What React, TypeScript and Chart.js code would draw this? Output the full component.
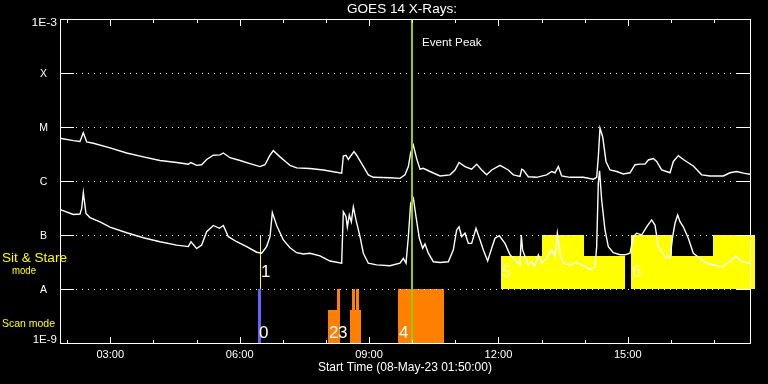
import React, { useEffect, useRef } from "react";
import { Chart, registerables } from "chart.js";

Chart.register(...registerables);

// ---------------- data ----------------
const chartTitle = "GOES 14 X-Rays:";
const xAxisTitle = "Start Time (08-May-23 01:50:00)";
const startHour = 1 + 50 / 60; // 01:50
const spanHours = 16;
const majorTickHours = [3, 6, 9, 12, 15];
const majorTickLabels = ["03:00", "06:00", "09:00", "12:00", "15:00"];
const minorTickHours = [2, 4, 5, 7, 8, 10, 11, 13, 14, 16, 17];
const fluxMin = 1e-9;
const fluxMax = 1e-3;
const fluxMinLabel = "1E-9";
const fluxMaxLabel = "1E-3";
const classLevels = [1e-8, 1e-7, 1e-6, 1e-5, 1e-4];
const classLabels = ["A", "B", "C", "M", "X"];
const eventPeakHour = 9.99;
const eventPeakLabel = "Event Peak";
const stareLabel1 = "Sit & Stare";
const stareLabel2 = "mode";
const scanLabel = "Scan mode";

// 1-8 Å (long wavelength) channel
const longHours = [
  1.833, 2.143, 2.297, 2.374, 2.452, 2.606, 2.993, 3.379, 3.766, 4.152, 4.539, 4.809, 4.871, 5.002,
  5.118, 5.234, 5.389, 5.543, 5.621, 5.775, 6.007, 6.239, 6.471, 6.587, 6.703, 6.78, 6.935, 7.089,
  7.167, 7.321, 7.63, 7.94, 8.365, 8.403, 8.465, 8.519, 8.573, 8.651, 8.713, 8.829, 8.983, 9.099,
  9.486, 9.717, 9.833, 9.911, 9.965, 10.027, 10.104, 10.181, 10.258, 10.413, 10.645, 10.877, 10.993,
  11.086, 11.225, 11.379, 11.495, 11.611, 11.727, 11.843, 12.036, 12.229, 12.345, 12.5, 12.54,
  12.577, 12.693, 12.886, 13.118, 13.234, 13.312, 13.389, 13.466, 13.659, 13.969, 14.2, 14.278,
  14.316, 14.355, 14.417, 14.494, 14.587, 14.742, 14.896, 15.051, 15.167, 15.283, 15.399, 15.476,
  15.592, 15.669, 15.785, 15.978, 16.056, 16.172, 16.287, 16.519, 16.713, 16.906, 17.215, 17.37,
  17.524, 17.679, 17.833,
];
const longFlux = [
  6.2e-6, 5.6e-6, 5.4e-6, 7.8e-6, 5.3e-6, 5.0e-6, 4.1e-6, 3.3e-6, 2.8e-6, 2.4e-6, 2.2e-6, 2.05e-6, 2.2e-6, 1.95e-6,
  2.0e-6, 2.5e-6, 3.0e-6, 3.05e-6, 3.3e-6, 2.7e-6, 2.4e-6, 2.1e-6, 1.85e-6, 2.0e-6, 3.0e-6, 3.65e-6, 2.8e-6, 2.2e-6,
  1.95e-6, 1.75e-6, 1.7e-6, 1.6e-6, 1.4e-6, 2.9e-6, 3.0e-6, 2.5e-6, 2.9e-6, 3.5e-6, 3.0e-6, 2.1e-6, 1.3e-6, 1.17e-6,
  1.15e-6, 1.12e-6, 1.3e-6, 1.85e-6, 3.3e-6, 4.6e-6, 2.6e-6, 1.65e-6, 1.72e-6, 1.5e-6, 1.24e-6, 1.3e-6, 1.6e-6,
  2.2e-6, 1.85e-6, 1.65e-6, 2.05e-6, 1.6e-6, 1.3e-6, 1.6e-6, 1.95e-6, 1.6e-6, 1.3e-6, 1.22e-6, 1.65e-6,
  1.6e-6, 1.2e-6, 1.17e-6, 1.3e-6, 1.5e-6, 1.42e-6, 1.85e-6, 1.24e-6, 1.17e-6, 1.17e-6, 1.08e-6, 1.17e-6,
  2.8e-6, 9.5e-6, 6.6e-6, 2.3e-6, 1.6e-6, 1.5e-6, 1.35e-6, 1.42e-6, 2.0e-6, 2.05e-6, 2.05e-6, 2.45e-6,
  2.6e-6, 2.3e-6, 1.6e-6, 1.42e-6, 2.3e-6, 2.95e-6, 2.5e-6, 1.9e-6, 1.3e-6, 1.24e-6, 1.24e-6, 1.42e-6,
  1.5e-6, 1.4e-6, 1.33e-6,
];

// 0.5-4 Å (short wavelength) channel
const shortHours = [
  1.833, 1.872, 2.143, 2.297, 2.336, 2.374, 2.436, 2.529, 2.761, 2.993, 3.379, 3.766, 4.152, 4.539,
  4.809, 4.871, 5.002, 5.118, 5.234, 5.389, 5.528, 5.621, 5.737, 5.93, 6.162, 6.394, 6.51, 6.625,
  6.703, 6.757, 6.858, 7.012, 7.167, 7.321, 7.476, 7.63, 7.862, 8.094, 8.365, 8.403, 8.465, 8.496,
  8.542, 8.589, 8.635, 8.697, 8.79, 8.867, 8.983, 9.176, 9.486, 9.717, 9.795, 9.857, 9.911, 9.965,
  10.027, 10.088, 10.166, 10.243, 10.297, 10.374, 10.49, 10.645, 10.838, 10.954, 11.031, 11.086,
  11.147, 11.225, 11.302, 11.379, 11.48, 11.573, 11.65, 11.75, 11.843, 11.92, 12.021, 12.152,
  12.268, 12.384, 12.5, 12.53, 12.56, 12.616, 12.693, 12.771, 12.848, 12.925, 13.002, 13.118,
  13.234, 13.312, 13.366, 13.428, 13.505, 13.659, 13.814, 13.969, 14.123, 14.239, 14.278, 14.316,
  14.345, 14.394, 14.471, 14.548, 14.664, 14.819, 14.935, 15.051, 15.128, 15.205, 15.321, 15.437,
  15.553, 15.63, 15.708, 15.862, 15.978, 16.04, 16.094, 16.156, 16.21, 16.287, 16.403, 16.519,
  16.674, 16.829, 17.06, 17.215, 17.37, 17.509, 17.64, 17.833,
];
const shortFlux = [
  3.0e-7, 2.9e-7, 2.4e-7, 2.45e-7, 3.1e-7, 6.1e-7, 2.5e-7, 2.1e-7, 1.75e-7, 1.4e-7, 1.1e-7, 8.9e-8, 7.5e-8, 6.5e-8,
  6.1e-8, 7.5e-8, 5.6e-8, 6.5e-8, 1.15e-7, 1.5e-7, 1.33e-7, 1.5e-7, 9.3e-8, 7.5e-8, 6.1e-8, 4.8e-8, 4.6e-8, 6.1e-8,
  9.3e-8, 2.6e-7, 1.5e-7, 8.1e-8, 5.8e-8, 4.7e-8, 4.45e-8, 4.6e-8, 4.1e-8, 3.3e-8, 3.0e-8, 2.7e-7, 2.2e-7, 1.4e-7,
  2.35e-7, 1.75e-7, 3.3e-7, 1.9e-7, 9.3e-8, 4.6e-8, 3.0e-8, 2.8e-8, 2.7e-8, 3.0e-8, 3.7e-8, 3.0e-8, 9.3e-8, 3.9e-7,
  4.8e-7, 2.2e-7, 8.7e-8, 5.7e-8, 6.8e-8, 4.6e-8, 3.2e-8, 3.1e-8, 3.2e-8, 5.3e-8, 1.24e-7, 1.42e-7,
  9.3e-8, 1.08e-7, 7.0e-8, 7.0e-8, 1.33e-7, 8.1e-8, 5.3e-8, 3.3e-8, 5.7e-8, 8.7e-8, 9.7e-8, 7.0e-8,
  4.3e-8, 3.45e-8, 2.8e-8, 1.0e-7, 5.3e-8, 4.0e-8, 2.8e-8, 3.2e-8, 2.7e-8, 4.3e-8, 3.0e-8, 3.7e-8,
  5.3e-8, 4.0e-8, 1.08e-7, 4.6e-8, 3.0e-8, 2.8e-8, 3.1e-8, 2.7e-8, 2.3e-8, 2.6e-8, 6.1e-8, 9.1e-7,
  1.55e-6, 4.45e-7, 1.24e-7, 6.1e-8, 4.7e-8, 4.3e-8, 4.3e-8, 4.6e-8, 9.3e-8, 1.08e-7, 1.0e-7, 1.42e-7,
  1.9e-7, 1.53e-7, 6.1e-8, 4.0e-8, 3.7e-8, 9.3e-8, 1.65e-7, 2.35e-7, 1.76e-7, 1.42e-7, 8.7e-8, 4.6e-8,
  3.7e-8, 3.0e-8, 2.7e-8, 2.6e-8, 3.3e-8, 4.1e-8, 3.2e-8, 3.0e-8,
];

// observation modes (hours, flux extent)
const modeStart = [6.425, 6.475, 8.048, 8.256, 8.558, 8.604, 8.696, 9.671, 12.06, 13.017, 15.074, 15.074, 16.975];
const modeEnd = [6.494, 6.49, 8.326, 8.326, 8.814, 8.674, 8.766, 10.738, 14.928, 13.984, 17.95, 16.032, 17.95];
const modeTop = [1e-8, 1e-7, 4.1e-9, 1e-8, 4.1e-9, 1e-8, 1e-8, 1e-8, 4.1e-8, 1e-7, 4.1e-8, 1e-7, 1e-7];
const modeBase = [1e-9, 1e-8, 1e-9, 1e-9, 1e-9, 1e-9, 1e-9, 1e-9, 1e-8, 1e-8, 1e-8, 1e-8, 1e-8];
const modeKind = ["scan0", "stare", "scan", "scan", "scan", "scan", "scan", "scan", "stare", "stare", "stare", "stare", "stare"];
const modeLabel = ["0", "1", "2", "3", "", "", "", "4", "5", "", "6", "", ""];

// ---------------- styles ----------------
const modeColors: Record<string, string> = { scan0: "#6464ff", stare: "#ffff00", scan: "#ff8000" };
const FONT = '"Liberation Sans", Arial, sans-serif';

function drawText(
  ctx: CanvasRenderingContext2D,
  s: string,
  x: number,
  y: number,
  size: number,
  color: string,
  align: "left" | "center" | "right",
  width?: number
) {
  ctx.save();
  ctx.font = `${size}px ${FONT}`;
  ctx.fillStyle = color;
  ctx.textBaseline = "middle";
  ctx.textAlign = "left";
  const w = ctx.measureText(s).width;
  const sx = width ? width / w : 1;
  const dw = w * sx;
  const left = align === "left" ? x : align === "center" ? x - dw / 2 : x - dw;
  ctx.translate(left, y);
  ctx.scale(sx, 1);
  ctx.fillText(s, 0, 0);
  ctx.restore();
}

const goesPlugin = {
  id: "goesDecor",
  beforeDraw(chart: any) {
    const ctx = chart.ctx as CanvasRenderingContext2D;
    ctx.save();
    ctx.fillStyle = "#000";
    ctx.fillRect(0, 0, chart.width, chart.height);
    ctx.restore();
  },
  beforeDatasetsDraw(chart: any) {
    const ctx = chart.ctx as CanvasRenderingContext2D;
    const a = chart.chartArea;
    const xs = chart.scales.x;
    const ys = chart.scales.y;
    ctx.save();
    // mode blocks
    for (let i = 0; i < modeStart.length; i++) {
      const x0 = Math.round(xs.getPixelForValue(modeStart[i]));
      const x1 = Math.round(xs.getPixelForValue(modeEnd[i]));
      const y0 = Math.round(ys.getPixelForValue(modeTop[i]));
      const y1 = Math.round(ys.getPixelForValue(modeBase[i]));
      ctx.fillStyle = modeColors[modeKind[i]];
      ctx.fillRect(x0, y0, Math.max(1, x1 - x0), y1 - y0);
    }
    // class grid lines (dotted) + solid ticks at both sides
    ctx.strokeStyle = "#fff";
    ctx.lineWidth = 1;
    for (const v of classLevels) {
      const py = Math.round(ys.getPixelForValue(v)) + 0.5;
      ctx.setLineDash([1, 5]);
      ctx.beginPath();
      ctx.moveTo(a.left + 16, py);
      ctx.lineTo(a.right - 14, py);
      ctx.stroke();
      ctx.setLineDash([]);
      ctx.beginPath();
      ctx.moveTo(a.left, py);
      ctx.lineTo(a.left + 14, py);
      ctx.moveTo(a.right - 14, py);
      ctx.lineTo(a.right, py);
      ctx.stroke();
    }
    ctx.restore();
  },
  afterDatasetsDraw(chart: any) {
    const ctx = chart.ctx as CanvasRenderingContext2D;
    const a = chart.chartArea;
    const xs = chart.scales.x;
    const ys = chart.scales.y;
    ctx.save();
    // event peak line
    const ex = Math.round(xs.getPixelForValue(eventPeakHour));
    ctx.fillStyle = "#99cc00";
    ctx.fillRect(ex - 1, a.top, 2, a.bottom - a.top);

    // frame
    ctx.strokeStyle = "#fff";
    ctx.lineWidth = 1;
    ctx.strokeRect(a.left + 0.5, a.top + 0.5, a.right - a.left, a.bottom - a.top);

    // time ticks top and bottom
    ctx.beginPath();
    for (const h of minorTickHours) {
      const px = Math.round(xs.getPixelForValue(h)) + 0.5;
      ctx.moveTo(px, a.top);
      ctx.lineTo(px, a.top + 4);
      ctx.moveTo(px, a.bottom + 1);
      ctx.lineTo(px, a.bottom - 3);
    }
    for (const h of majorTickHours) {
      const px = Math.round(xs.getPixelForValue(h)) + 0.5;
      ctx.moveTo(px, a.top);
      ctx.lineTo(px, a.top + 7);
      ctx.moveTo(px, a.bottom + 1);
      ctx.lineTo(px, a.bottom - 6);
    }
    ctx.stroke();
    ctx.restore();

    // texts
    drawText(ctx, chartTitle, (a.left + a.right) / 2 - 3, 9.5, 12.5, "#fff", "center", 110);
    drawText(ctx, xAxisTitle, (a.left + a.right) / 2, a.bottom + 25, 12, "#fff", "center", 174);
    majorTickHours.forEach((h, i) => {
      drawText(ctx, majorTickLabels[i], xs.getPixelForValue(h), a.bottom + 12, 10, "#fff", "center", 27.7);
    });
    drawText(ctx, fluxMaxLabel, a.left - 3, ys.getPixelForValue(fluxMax) + 4.5, 10, "#fff", "right", 25.6);
    drawText(ctx, fluxMinLabel, a.left - 3, ys.getPixelForValue(fluxMin) - 3, 10, "#fff", "right", 24.3);
    classLevels.forEach((v, i) => {
      drawText(ctx, classLabels[i], a.left - 16.5, ys.getPixelForValue(v) + 1.5, 10.5, "#fff", "center");
    });
    drawText(ctx, eventPeakLabel, ex + 10, a.top + 23.5, 11.5, "#fff", "left", 59.7);
    drawText(ctx, stareLabel1, 2, 259, 12, "#ffff00", "left", 65);
    drawText(ctx, stareLabel2, 12, 270.8, 11.5, "#ffff00", "left", 24);
    drawText(ctx, scanLabel, 2, 324, 11.5, "#ffff00", "left", 53);

    // mode numbers
    for (let i = 0; i < modeStart.length; i++) {
      if (!modeLabel[i]) continue;
      const x0 = Math.round(xs.getPixelForValue(modeStart[i]));
      const yb = ys.getPixelForValue(modeBase[i]);
      const isStare = modeKind[i] === "stare";
      const ty = isStare ? yb - 17 : yb - 10;
      const color = isStare && modeLabel[i] !== "1" ? "#ffffb0" : "#fff";
      drawText(ctx, modeLabel[i], x0 + 1, ty, 17, color, "left");
    }
  },
};

export default function App() {
  const ref = useRef<HTMLCanvasElement>(null);
  useEffect(() => {
    if (!ref.current) return;
    const chart = new Chart(ref.current, {
      type: "line",
      data: {
        datasets: [
          {
            label: "1.0-8.0 Å",
            data: longHours.map((h, i) => ({ x: h, y: longFlux[i] })),
            borderColor: "#ffffff",
            borderWidth: 1.4,
            pointRadius: 0,
            tension: 0,
            fill: false,
          },
          {
            label: "0.5-4.0 Å",
            data: shortHours.map((h, i) => ({ x: h, y: shortFlux[i] })),
            borderColor: "#ffffff",
            borderWidth: 1.4,
            pointRadius: 0,
            tension: 0,
            fill: false,
          },
        ],
      },
      options: {
        responsive: false,
        animation: false,
        events: [],
        layout: { padding: { left: 60, top: 19, right: 18, bottom: 41 } },
        plugins: { legend: { display: false }, tooltip: { enabled: false }, title: { display: false } },
        scales: {
          x: { type: "linear", min: startHour, max: startHour + spanHours, display: false },
          y: { type: "logarithmic", min: fluxMin, max: fluxMax, display: false },
        },
      },
      plugins: [goesPlugin],
    });
    return () => chart.destroy();
  }, []);
  return (
    <div style={{ position: "fixed", left: 0, top: 0, width: 768, height: 384, background: "#000" }}>
      <canvas ref={ref} width={768} height={384} style={{ display: "block", width: 768, height: 384 }} />
    </div>
  );
}
